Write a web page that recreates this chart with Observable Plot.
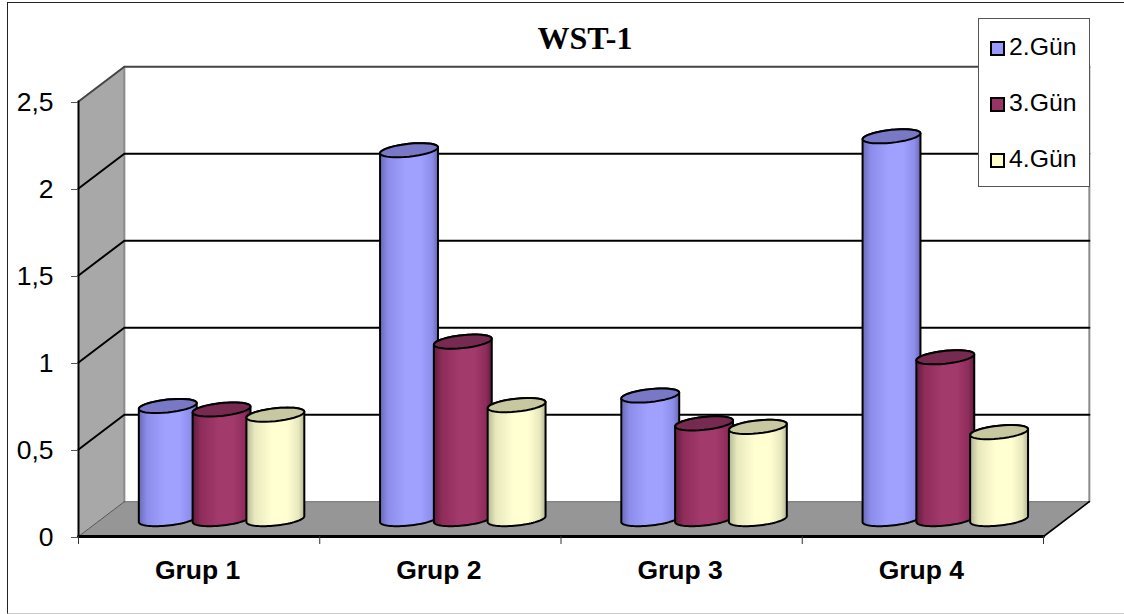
<!DOCTYPE html>
<html>
<head>
<meta charset="utf-8">
<script src="https://cdn.jsdelivr.net/npm/d3@7"></script>
<script src="https://cdn.jsdelivr.net/npm/@observablehq/plot@0.6"></script>
<style>
  html, body { margin: 0; padding: 0; background: #fff; }
  #stage { position: relative; width: 1124px; height: 614px; overflow: hidden; }
  #stage svg { position: absolute; left: 0; top: 0; display: block; }
  #frame { position: absolute; left: 7px; top: 2px; width: 1117px; height: 610px;
           border-left: 1.5px solid #222; border-top: 1.5px solid #222; border-bottom: 1px solid #ccc; }
  #chart-title { position: absolute; left: 485px; width: 200px; top: 20px; margin: 0; text-align: center;
           font: bold 32px "Liberation Serif", serif; color: #000; line-height: 36px; }
  #legend { position: absolute; left: 978px; top: 18px; width: 111.5px; height: 169px; background: #fff;
           box-sizing: border-box; border: 1.5px solid #555; font: 24.8px "Liberation Sans", sans-serif; color: #000; }
  #legend div { position: absolute; left: 10.5px; height: 28px; line-height: 28px; white-space: nowrap; }
  #legend i { display: inline-block; width: 11px; height: 11px; border: 2px solid #000; margin-right: 4.5px;
           vertical-align: -1px; }
</style>
</head>
<body>
<div id="stage">
  <div id="frame"></div>
  <h1 id="chart-title">WST-1</h1>
</div>
<script>
// Measurements per group and day
const groups = ["Grup 1", "Grup 2", "Grup 3", "Grup 4"];
const days = ["2.Gün", "3.Gün", "4.Gün"];
const day2 = [0.65, 2.12, 0.71, 2.20];
const day3 = [0.63, 1.02, 0.55, 0.93];
const day4 = [0.60, 0.655, 0.53, 0.50];
const yTicks = [0, 0.5, 1, 1.5, 2, 2.5];
const dayValues = [day2, day3, day4];

// Fill colours: side highlight, side shade, lid
const sideLight = ["#a0a0ff", "#a33a6c", "#ffffd2"];
const sideMid = ["#8c8ceb", "#8e2c5a", "#e8e8bd"];
const sideDark = ["#6a6ab4", "#5f1c3d", "#b5b594"];
const lidFill = ["#7878c6", "#772a50", "#c8c8a0"];
const legendFill = ["#9999ff", "#993366", "#ffffcc"];

// Oblique projection: how far the back of the box shifts, in scale units
const depthX = 0.19;
const depthY = 0.2;
const at = (x, y, d) => ({x: x + d * depthX, y: y + d * depthY});

// Cylinder proportions, in scale units
const barStep = 0.223;
const radiusX = 0.12;
const radiusY = 0.037;
const tilt = 0.017;
const ringPoint = (cx, cy, t) => ({
  x: cx + radiusX * Math.cos(t),
  y: cy + radiusY * Math.sin(t) + tilt * Math.cos(t)
});
const arc = (cx, cy, from, to) =>
  d3.range(0, 37).map((i) => ringPoint(cx, cy, from + (to - from) * i / 36));

// Each cylinder stands half way into the floor's depth
const centerOf = (g, s) => at(g + 0.498 + (s - 1) * barStep, 0, 0.5);

function cylinderMarks(s) {
  const body = [], lid = [];
  groups.forEach((_, g) => {
    const c = centerOf(g, s);
    const top = c.y + dayValues[s][g];
    const outline = [...arc(c.x, c.y, Math.PI, 2 * Math.PI), ...arc(c.x, top, 0, Math.PI)];
    outline.push(outline[0]);
    outline.forEach((p) => body.push({...p, g}));
    arc(c.x, top, 0, 2 * Math.PI).forEach((p) => lid.push({...p, g}));
  });
  return [
    Plot.line(body, {x: "x", y: "y", z: "g", fill: `url(#side${s})`, stroke: "#000", strokeWidth: 2}),
    Plot.line(lid, {x: "x", y: "y", z: "g", fill: lidFill[s], stroke: "#000", strokeWidth: 2})
  ];
}

const nX = groups.length;
const topY = yTicks[yTicks.length - 1];
const polyline = (pts, opts) => Plot.line(pts, {x: "x", y: "y", ...opts});

const chart = Plot.plot({
  width: 1124,
  height: 614,
  marginLeft: 78,
  marginRight: 81,
  marginTop: 101,
  marginBottom: 78,
  style: {background: "transparent", fontFamily: "'Liberation Sans', sans-serif", color: "#000"},
  x: {domain: [0, nX], axis: null},
  y: {domain: [0, topY], axis: null},
  marks: [
    // Side wall and floor of the box
    polyline([at(0, 0, 0), at(0, topY, 0), at(0, topY, 1), at(0, 0, 1), at(0, 0, 0)],
      {fill: "#a8a8a8", stroke: "none"}),
    polyline([at(0, 0, 0), at(nX, 0, 0), at(nX, 0, 1), at(0, 0, 1), at(0, 0, 0)],
      {fill: "#969696", stroke: "none"}),
    // Back wall edges
    polyline([at(0, 0, 1), at(0, topY, 1)], {stroke: "#8a8a8a", strokeWidth: 2}),
    polyline([at(nX, 0, 1), at(nX, topY, 1)], {stroke: "#8a8a8a", strokeWidth: 2}),
    polyline([at(0, 0, 1), at(nX, 0, 1)], {stroke: "#6e6e6e", strokeWidth: 1}),
    polyline([at(0, 0, 0), at(0, 0, 1)], {stroke: "#555", strokeWidth: 1}),
    // Grid lines wrapping the side and back walls
    ...yTicks.filter((v) => v > 0).map((v) =>
      polyline([at(0, v, 0), at(0, v, 1), at(nX, v, 1)],
        {stroke: v === topY ? "#444" : "#000", strokeWidth: 2, strokeLinejoin: "miter"})),
    // Front edges of the box
    polyline([at(0, 0, 0), at(0, topY, 0)], {stroke: "#000", strokeWidth: 2}),
    polyline([at(nX, 0, 0), at(nX, 0, 1)], {stroke: "#000", strokeWidth: 1.6}),
    polyline([at(0, 0, 0), at(nX, 0, 0)], {stroke: "#000", strokeWidth: 3}),
    // Axes
    Plot.axisY({
      ticks: yTicks,
      tickSize: 7,
      tickPadding: 18,
      stroke: "#555",
      fontSize: 26.5,
      dy: 1,
      tickFormat: (v) => String(v).replace(".", ","),
      label: null,
      marginLeft: 78
    }),
    Plot.axisX({ticks: d3.range(0, nX + 1), tickSize: 8, tickFormat: () => "", label: null, stroke: "#333"}),
    Plot.axisX({
      ticks: groups.map((_, i) => i + 0.5),
      tickSize: 0,
      tickPadding: 24,
      dx: -1.5,
      fontSize: 26.5,
      fontWeight: "bold",
      tickFormat: (v) => groups[v - 0.5],
      label: null
    }),
    // Cylinders, drawn left to right so each overlaps the previous one
    ...days.flatMap((_, s) => cylinderMarks(s))
  ]
});

// Horizontal shading that gives each cylinder its roundness
const defs = d3.select(chart).insert("defs", ":first-child");
days.forEach((_, s) => {
  const gradient = defs.append("linearGradient").attr("id", `side${s}`).attr("x1", 0).attr("x2", 1).attr("y1", 0).attr("y2", 0);
  [[0, sideDark[s]], [0.14, sideMid[s]], [0.45, sideLight[s]], [0.7, sideLight[s]], [0.9, sideMid[s]], [1, sideDark[s]]]
    .forEach(([o, c]) => gradient.append("stop").attr("offset", o).attr("stop-color", c));
});

const stage = document.getElementById("stage");
stage.appendChild(chart);

// Legend box, sitting over the back wall's corner
const legend = d3.select(stage).append("div").attr("id", "legend");
days.forEach((label, s) => {
  const row = legend.append("div").style("top", `${14 + s * 56}px`);
  row.append("i").style("background", legendFill[s]);
  row.append("span").text(label);
});
stage.appendChild(document.getElementById("chart-title"));
</script>
</body>
</html>
